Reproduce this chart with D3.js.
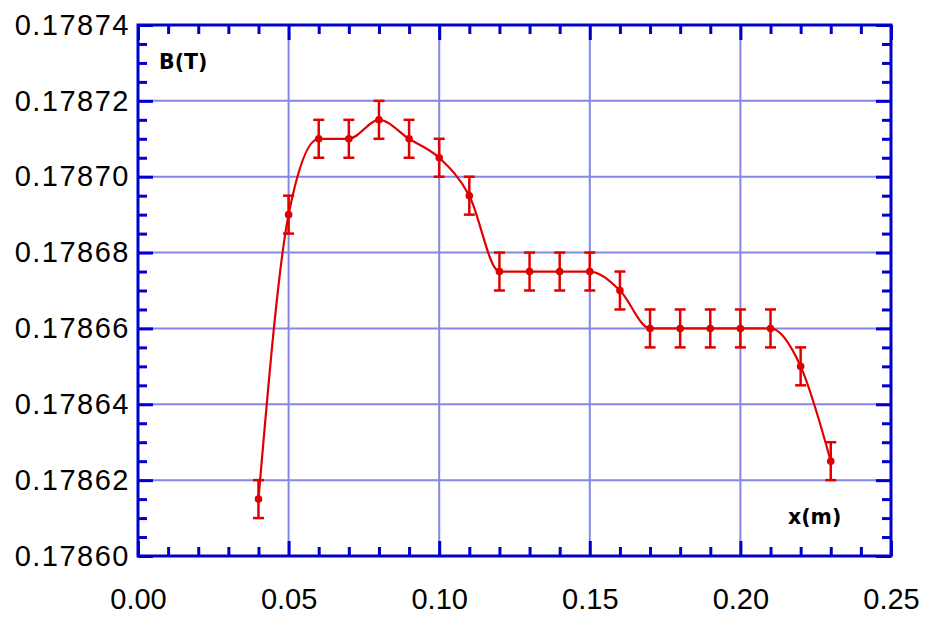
<!DOCTYPE html>
<html>
<head>
<meta charset="utf-8">
<script src="https://cdn.jsdelivr.net/npm/d3@7"></script>
<style>
  html, body { margin: 0; padding: 0; background: #fff; }
  svg { display: block; }
</style>
</head>
<body>
<svg id="chart" width="925" height="617"></svg>
<script>
// Measured field B(T) along position x(m), with uncertainty
const xPos = [0.04, 0.05, 0.06, 0.07, 0.08, 0.09, 0.10, 0.11, 0.12, 0.13, 0.14, 0.15,
              0.16, 0.17, 0.18, 0.19, 0.20, 0.21, 0.22, 0.23];
const bField = [0.178615, 0.17869, 0.17871, 0.17871, 0.178715, 0.17871, 0.178705, 0.178695,
                0.178675, 0.178675, 0.178675, 0.178675, 0.17867, 0.17866, 0.17866, 0.17866,
                0.17866, 0.17866, 0.17865, 0.178625];
const bError = [0.000005, 0.000005, 0.000005, 0.000005, 0.000005, 0.000005, 0.000005, 0.000005,
                0.000005, 0.000005, 0.000005, 0.000005, 0.000005, 0.000005, 0.000005, 0.000005,
                0.000005, 0.000005, 0.000005, 0.000005];
const xTicks = [0.00, 0.05, 0.10, 0.15, 0.20, 0.25];
const yTicks = [0.17860, 0.17862, 0.17864, 0.17866, 0.17868, 0.17870, 0.17872, 0.17874];

const points = xPos.map((x, i) => ({ x, y: bField[i], e: bError[i] }));

const svg = d3.select("#chart");
const plotL = 138, plotR = 891, plotT = 25, plotB = 556;

const x = d3.scaleLinear().domain([0, 0.25]).range([plotL, plotR]);
const y = d3.scaleLinear().domain([0.17860, 0.17874]).range([plotB, plotT]);

const axisColor = "#0000cc";
const gridColor = "#8585ea";
const red = "#e00000";

// Grid lines
const grid = svg.append("g");
grid.selectAll("line.gx").data(xTicks.slice(1, -1)).join("line")
  .attr("class", "gx")
  .attr("x1", d => x(d)).attr("x2", d => x(d))
  .attr("y1", plotT).attr("y2", plotB)
  .attr("stroke", gridColor).attr("stroke-width", 2);
grid.selectAll("line.gy").data(yTicks.slice(1, -1)).join("line")
  .attr("class", "gy")
  .attr("x1", plotL).attr("x2", plotR)
  .attr("y1", d => y(d)).attr("y2", d => y(d))
  .attr("stroke", gridColor).attr("stroke-width", 2);

// Axes with inward major and minor ticks on all four sides
const xMinor = d3.range(0, 0.2501, 0.01).filter(v => Math.abs(v / 0.05 - Math.round(v / 0.05)) > 1e-6);
const yMinor = d3.range(0.17860, 0.178741, 0.000005).filter(v => Math.abs((v - 0.1786) / 0.00002 - Math.round((v - 0.1786) / 0.00002)) > 1e-6);

function styleAxis(g) {
  g.select(".domain").remove();
  g.selectAll(".tick line").attr("stroke", axisColor).attr("stroke-width", 3);
}

const fmtX = d3.format(".2f");
const fmtY = d3.format(".5f");

// bottom
svg.append("g").attr("transform", `translate(0,${plotB})`)
  .call(d3.axisBottom(x).tickValues(xMinor).tickSize(-9).tickFormat(""))
  .call(styleAxis);
svg.append("g").attr("transform", `translate(0,${plotB})`)
  .call(d3.axisBottom(x).tickValues(xTicks).tickSize(-15).tickPadding(32).tickFormat(fmtX))
  .call(styleAxis)
  .call(g => g.selectAll("text").attr("fill", "#000")
    .style("font-family", "Liberation Sans, Arial, sans-serif").style("font-size", "29px")
    .attr("dy", "0.71em"));
// top
svg.append("g").attr("transform", `translate(0,${plotT})`)
  .call(d3.axisTop(x).tickValues(xMinor).tickSize(-9).tickFormat(""))
  .call(styleAxis);
svg.append("g").attr("transform", `translate(0,${plotT})`)
  .call(d3.axisTop(x).tickValues(xTicks).tickSize(-15).tickFormat(""))
  .call(styleAxis);
// left
svg.append("g").attr("transform", `translate(${plotL},0)`)
  .call(d3.axisLeft(y).tickValues(yMinor).tickSize(-9).tickFormat(""))
  .call(styleAxis);
svg.append("g").attr("transform", `translate(${plotL},0)`)
  .call(d3.axisLeft(y).tickValues(yTicks).tickSize(-15).tickPadding(8).tickFormat(fmtY))
  .call(styleAxis)
  .call(g => g.selectAll("text").attr("fill", "#000")
    .style("font-family", "Liberation Sans, Arial, sans-serif").style("font-size", "29px")
    .style("letter-spacing", "1.5px"));
// right
svg.append("g").attr("transform", `translate(${plotR},0)`)
  .call(d3.axisRight(y).tickValues(yMinor).tickSize(-9).tickFormat(""))
  .call(styleAxis);
svg.append("g").attr("transform", `translate(${plotR},0)`)
  .call(d3.axisRight(y).tickValues(yTicks).tickSize(-15).tickFormat(""))
  .call(styleAxis);

// Frame
svg.append("rect")
  .attr("x", plotL).attr("y", plotT)
  .attr("width", plotR - plotL).attr("height", plotB - plotT)
  .attr("fill", "none").attr("stroke", axisColor).attr("stroke-width", 3);

// Smooth fit curve
const line = d3.line().x(d => x(d.x)).y(d => y(d.y)).curve(d3.curveMonotoneX);
svg.append("path").datum(points)
  .attr("d", line)
  .attr("fill", "none").attr("stroke", red).attr("stroke-width", 2.2);

// Error bars
const eb = svg.append("g").attr("stroke", red).attr("stroke-width", 2.5);
eb.selectAll("line.v").data(points).join("line")
  .attr("class", "v")
  .attr("x1", d => x(d.x)).attr("x2", d => x(d.x))
  .attr("y1", d => y(d.y - d.e)).attr("y2", d => y(d.y + d.e));
eb.selectAll("line.t").data(points).join("line")
  .attr("class", "t")
  .attr("x1", d => x(d.x) - 5.5).attr("x2", d => x(d.x) + 5.5)
  .attr("y1", d => y(d.y + d.e)).attr("y2", d => y(d.y + d.e));
eb.selectAll("line.b").data(points).join("line")
  .attr("class", "b")
  .attr("x1", d => x(d.x) - 5.5).attr("x2", d => x(d.x) + 5.5)
  .attr("y1", d => y(d.y - d.e)).attr("y2", d => y(d.y - d.e));

// Data points
svg.append("g").selectAll("circle").data(points).join("circle")
  .attr("cx", d => x(d.x)).attr("cy", d => y(d.y)).attr("r", 3.8)
  .attr("fill", red);

// Axis titles inside the frame
svg.append("text").attr("x", 159).attr("y", 69)
  .style("font-family", "DejaVu Sans, Verdana, sans-serif").style("font-weight", "bold")
  .style("font-size", "20.5px").attr("fill", "#000").text("B(T)");
svg.append("text").attr("x", 788).attr("y", 524)
  .style("font-family", "DejaVu Sans, Verdana, sans-serif").style("font-weight", "bold")
  .style("font-size", "20.5px").attr("fill", "#000").text("x(m)");
</script>
</body>
</html>
